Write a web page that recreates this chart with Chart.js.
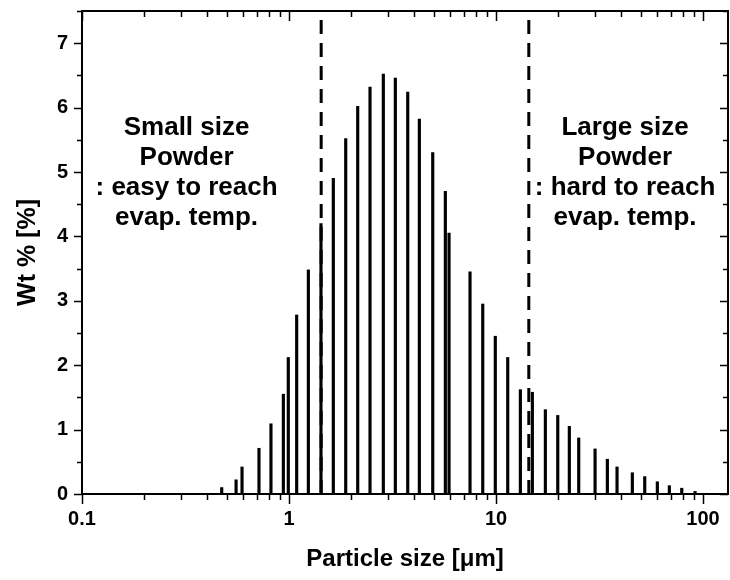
<!DOCTYPE html>
<html>
<head>
<meta charset="utf-8">
<script src="https://cdn.jsdelivr.net/npm/chart.js@4/dist/chart.umd.min.js"></script>
<style>
  html, body { margin:0; padding:0; background:#fff; }
  #wrap { width:730px; height:580px; position:relative; }
</style>
</head>
<body>
<div id="wrap"><canvas id="psd"></canvas></div>
<script>
// particle size classes [um] and weight fraction [%]
const sizes = [0.473, 0.555, 0.593, 0.716, 0.818, 0.939, 0.992, 1.089, 1.24, 1.427,
  1.637, 1.879, 2.147, 2.462, 2.855, 3.263, 3.745, 4.262, 4.946, 5.691,
  5.93, 7.488, 8.626, 9.92, 11.39, 13.11, 14.98, 17.31, 19.87, 22.6,
  25.09, 30.09, 34.5, 38.42, 45.55, 52.28, 60.15, 68.74, 78.92, 91.5];
const wt = [0.10, 0.22, 0.42, 0.71, 1.09, 1.55, 2.12, 2.78, 3.48, 4.20,
  4.90, 5.52, 6.02, 6.32, 6.52, 6.46, 6.24, 5.82, 5.30, 4.70,
  4.05, 3.45, 2.95, 2.45, 2.12, 1.62, 1.58, 1.31, 1.22, 1.05,
  0.87, 0.70, 0.54, 0.42, 0.33, 0.27, 0.19, 0.13, 0.09, 0.04];
const cutSmall = 1.43;
const cutLarge = 14.4;
const xMajor = [0.1, 1, 10, 100];
const yMajor = [0, 1, 2, 3, 4, 5, 6, 7];
const leftNote = ['Small size', 'Powder', ': easy to reach', 'evap. temp.'];
const rightNote = ['Large size', 'Powder', ': hard to reach', 'evap. temp.'];

const FONT = "'Liberation Sans', Arial, sans-serif";

const framePlugin = {
  id:'frame',
  afterDatasetsDraw(chart){
    const {ctx, chartArea:a, scales:{x, y}} = chart;
    ctx.save();
    ctx.strokeStyle = '#000';
    ctx.lineWidth = 2;
    ctx.strokeRect(a.left, a.top, a.right - a.left, a.bottom - a.top);
    ctx.lineWidth = 1.5;
    ctx.beginPath();
    // log ticks, bottom outward and top inward
    xMajor.forEach(d => {
      for(let m = 1; m <= 9; m++){
        const v = d * m;
        if(v < x.min || v > x.max) continue;
        const px = Math.round(x.getPixelForValue(v)) + 0.5;
        const len = m === 1 ? 10 : 6;
        ctx.moveTo(px, a.bottom); ctx.lineTo(px, a.bottom + len);
        ctx.moveTo(px, a.top); ctx.lineTo(px, a.top + len);
      }
    });
    for(let v = 0; v <= 7.5; v += 0.5){
      const py = Math.round(y.getPixelForValue(v)) + 0.5;
      const len = Number.isInteger(v) ? 8 : 5;
      ctx.moveTo(a.left, py); ctx.lineTo(a.left - len, py);
      ctx.moveTo(a.right, py); ctx.lineTo(a.right - len, py);
    }
    ctx.stroke();

    ctx.fillStyle = '#000';
    ctx.font = 'bold 26px ' + FONT;
    ctx.textAlign = 'center';
    ctx.textBaseline = 'middle';
    const y0 = y.getPixelForValue(5.68);
    const lx = x.getPixelForValue(0.32), rx = x.getPixelForValue(42);
    leftNote.forEach((t, i) => ctx.fillText(t, lx, y0 + i * 30));
    rightNote.forEach((t, i) => ctx.fillText(t, rx, y0 + i * 30));
    ctx.restore();
  }
};

const dashed = v => ({
  type:'line',
  data:[{x:v, y:0}, {x:v, y:7.5}],
  borderColor:'#000',
  borderWidth:3,
  borderDash:[14, 9],
  pointRadius:0,
  order:0
});

new Chart(document.getElementById('psd'), {
  type:'bar',
  data:{ datasets:[
    {
      label:'Wt %',
      data:sizes.map((s, i) => ({x:s, y:wt[i]})),
      backgroundColor:'#000',
      barThickness:2.5,
      order:1
    },
    dashed(cutSmall),
    dashed(cutLarge)
  ]},
  options:{
    responsive:true,
    maintainAspectRatio:false,
    animation:false,
    layout:{ padding:{ top:11, right:2, left:0, bottom:0 } },
    plugins:{ legend:{ display:false }, tooltip:{ enabled:false } },
    scales:{
      x:{
        type:'logarithmic',
        min:0.1,
        max:132,
        grid:{ display:false, drawTicks:false },
        border:{ display:false },
        afterBuildTicks(scale){ scale.ticks = xMajor.map(v => ({value:v})); },
        afterFit(scale){
          scale.height = 86;
          scale.paddingLeft = 0; scale.paddingRight = 0;
        },
        ticks:{
          autoSkip:false,
          maxRotation:0,
          padding:13,
          color:'#000',
          font:{ family:FONT, size:20, weight:'bold' },
          callback:v => String(v)
        },
        title:{
          display:true,
          text:'Particle size [\u03bcm]',
          color:'#000',
          font:{ family:FONT, size:24, weight:'bold' },
          padding:{ top:0, bottom:6 }
        }
      },
      y:{
        min:0,
        max:7.5,
        grid:{ display:false, drawTicks:false },
        border:{ display:false },
        afterBuildTicks(scale){ scale.ticks = yMajor.map(v => ({value:v})); },
        afterFit(scale){
          scale.width = 82;
          scale.paddingTop = 0; scale.paddingBottom = 0;
        },
        ticks:{
          padding:14,
          color:'#000',
          font:{ family:FONT, size:20, weight:'bold' }
        },
        title:{
          display:true,
          text:'Wt % [%]',
          color:'#000',
          font:{ family:FONT, size:25, weight:'bold' },
          padding:{ top:13, bottom:0 }
        }
      }
    }
  },
  plugins:[framePlugin]
});
</script>
</body>
</html>
